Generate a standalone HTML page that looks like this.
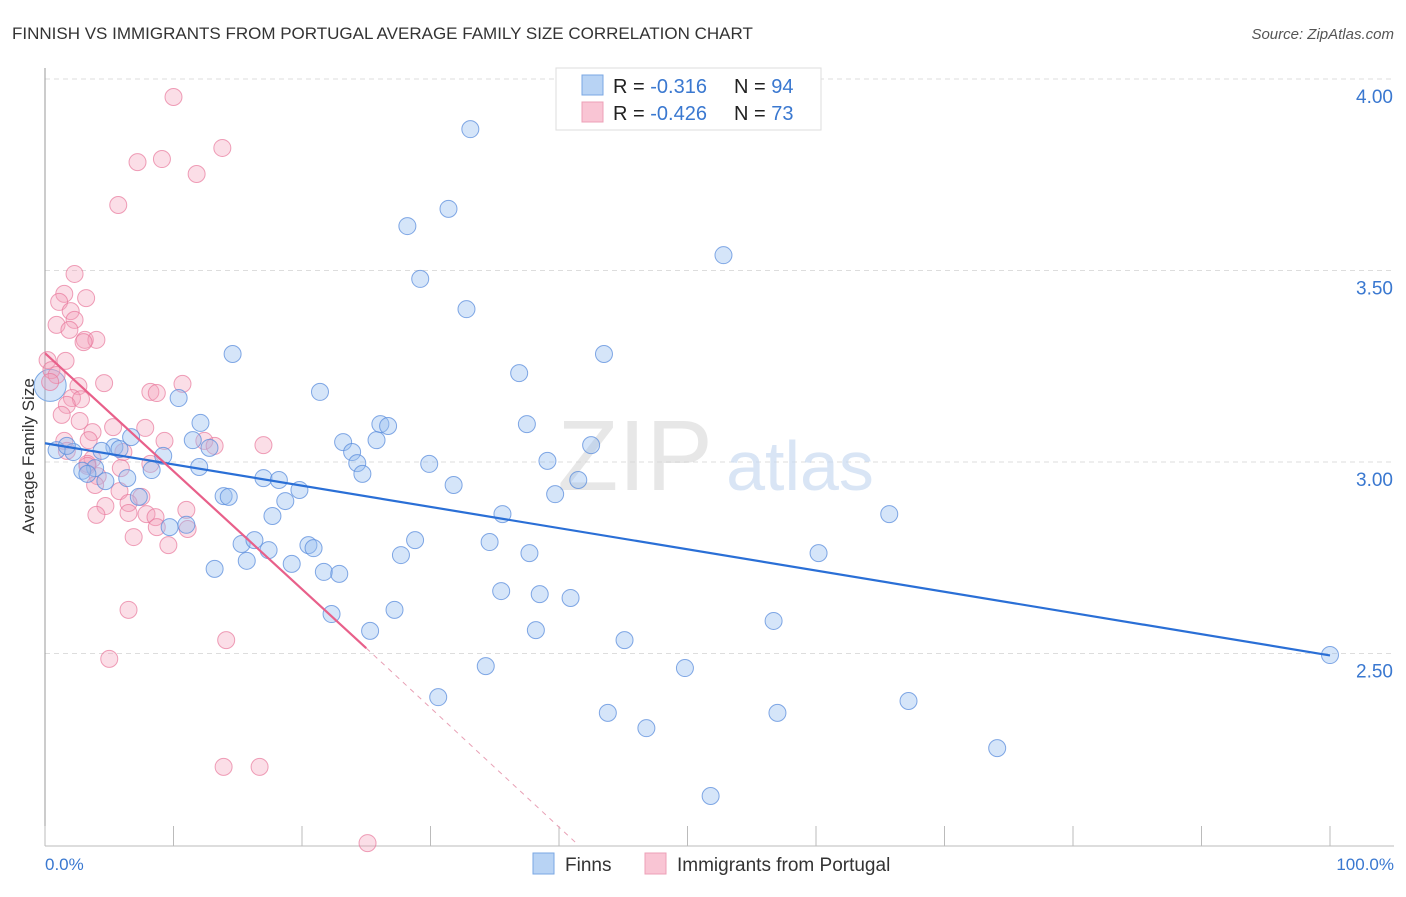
<!DOCTYPE html>
<html><head><meta charset="utf-8"><style>
body{margin:0;background:#fff;font-family:"Liberation Sans",sans-serif}
svg text{font-family:"Liberation Sans",sans-serif}
</style></head><body>
<svg id="chart" width="1406" height="892">
<text x="12" y="39" font-size="17" fill="#333">FINNISH VS IMMIGRANTS FROM PORTUGAL AVERAGE FAMILY SIZE CORRELATION CHART</text>
<text x="1394" y="39" font-size="15" fill="#555" font-style="italic" text-anchor="end">Source: ZipAtlas.com</text>
<g id="grid"></g>
<text x="635" y="490" font-size="100" fill="#d8d8d8" font-family="Liberation Serif" text-anchor="middle" opacity="0.6">ZIP</text>
<text x="800" y="490" font-size="70" fill="#c9dbf2" text-anchor="middle" opacity="0.7">atlas</text>
<line x1="45" y1="68" x2="45" y2="846" stroke="#999"/>
<line x1="45" y1="846" x2="1394" y2="846" stroke="#bbb"/>
<g id="xticks"></g>
<g id="ylabels"></g>
<text transform="translate(34,456) rotate(-90)" font-size="17" fill="#333" text-anchor="middle">Average Family Size</text>
<text x="45" y="870" font-size="17" fill="#3a78d0">0.0%</text>
<text x="1394" y="870" font-size="17" fill="#3a78d0" text-anchor="end">100.0%</text>
<g id="pts"></g>
<g id="trends"></g>
<g>
<rect x="556" y="68" width="265" height="62" fill="#fff" stroke="#ddd"/>
<rect x="582" y="75" width="21" height="20" fill="#b8d3f4" stroke="#7aa7e3"/>
<rect x="582" y="102" width="21" height="20" fill="#f9c5d4" stroke="#eda0b7"/>
<text x="613" y="93" font-size="20" fill="#222">R = <tspan fill="#3a78d0"> -0.316</tspan><tspan x="734">N = </tspan><tspan fill="#3a78d0">94</tspan></text>
<text x="613" y="120" font-size="20" fill="#222">R = <tspan fill="#3a78d0">-0.426</tspan><tspan x="734">N = </tspan><tspan fill="#3a78d0">73</tspan></text>
</g>
<g>
<rect x="533" y="853" width="21" height="21" fill="#b8d3f4" stroke="#7aa7e3"/>
<text x="565" y="871" font-size="19" fill="#333">Finns</text>
<rect x="645" y="853" width="21" height="21" fill="#f9c5d4" stroke="#eda0b7"/>
<text x="677" y="871" font-size="19" fill="#333">Immigrants from Portugal</text>
</g>
</svg>
<script>
const yTicks=[2.5,3.0,3.5,4.0];
const yTickLabels=["2.50","3.00","3.50","4.00"];
const xTickPcts=[0,10,20,30,40,50,60,70,80,90,100];
const finnsPx=[[470,129],[449,209],[408,226],[420,279],[724,255],[466,309],[233,354],[604,354],[519,373],[320,392],[179,398],[381,424],[388,426],[527,424],[201,423],[343,442],[376,440],[193,440],[591,445],[131,437],[352,452],[209,448],[114,447],[120,449],[57,450],[73,452],[102,451],[67,446],[163,456],[548,461],[429,464],[357,463],[199,467],[152,470],[95,468],[82,471],[87,474],[363,474],[263,478],[279,480],[127,478],[106,481],[578,480],[453,485],[299,490],[224,496],[229,497],[139,497],[285,501],[555,494],[502,514],[889,514],[272,516],[170,527],[186,525],[241,544],[255,540],[308,545],[313,548],[415,540],[489,542],[530,553],[818,553],[401,555],[268,550],[215,569],[247,561],[292,564],[324,572],[339,574],[501,591],[540,594],[571,598],[395,610],[332,614],[773,621],[370,631],[536,630],[624,640],[486,666],[685,668],[438,697],[908,701],[608,713],[778,713],[646,728],[997,748],[710,796],[1330,655]];
const portPx=[[173,97],[222,148],[137,162],[162,159],[196,174],[118,205],[75,274],[64,294],[86,298],[59,302],[71,311],[74,320],[57,325],[70,330],[85,340],[97,340],[84,342],[66,361],[48,360],[52,370],[56,375],[50,382],[104,383],[182,384],[78,386],[151,392],[157,393],[72,398],[81,399],[67,405],[62,415],[145,428],[113,427],[80,421],[93,432],[165,441],[204,441],[215,446],[264,445],[64,441],[89,440],[67,451],[124,452],[93,459],[88,464],[150,464],[87,466],[121,468],[98,476],[95,485],[120,491],[141,497],[128,503],[186,510],[105,506],[129,513],[147,514],[155,517],[96,515],[188,529],[157,527],[134,537],[169,545],[129,610],[226,640],[109,659],[224,767],[259,767],[367,843]];
const finnsX=finnsPx.map(p=>+((p[0]-45)/12.85).toFixed(1));
const finnsY=finnsPx.map(p=>+(3-(p[1]-462)/383).toFixed(3));
const portX=portPx.map(p=>+((p[0]-45)/12.85).toFixed(1));
const portY=portPx.map(p=>+(3-(p[1]-462)/383).toFixed(3));
const finnsTrend=[[0,3.049],[100,2.495]];
const portTrend=[[0,3.284],[25,2.514],[41.5,2.0]];
const NS="http://www.w3.org/2000/svg";
const X=p=>45+p*12.85, Y=v=>462-(v-3)*383;
function mk(tag,attrs,parent){const e=document.createElementNS(NS,tag);for(const k in attrs)e.setAttribute(k,attrs[k]);parent.appendChild(e);return e;}
const grid=document.getElementById('grid'),yl=document.getElementById('ylabels'),xt=document.getElementById('xticks');
yTicks.forEach((v,i)=>{
 const l=mk('line',{x1:45,x2:1394,y1:Y(v),y2:Y(v),stroke:'#ddd','stroke-dasharray':'5,4'},grid);
 
 
 const t=mk('text',{x:1393,y:Y(v)+24,'font-size':19,fill:'#3a78d0','text-anchor':'end'},yl);
 t.textContent=yTickLabels[i];
 
 
});
xTickPcts.forEach(p=>{
 const l=mk('line',{x1:X(p),x2:X(p),y1:826,y2:846,stroke:'#bbb'},xt);
 
 
});
const pts=document.getElementById('pts');
const big=mk('circle',{cx:X(0.4),cy:Y(3.2),r:16,fill:'rgba(150,190,240,0.4)',stroke:'#7aa7e3'},pts);


portX.forEach((x,i)=>{
 const c=mk('circle',{cx:X(x),cy:Y(portY[i]),r:8.5,fill:'rgba(244,160,185,0.35)',stroke:'rgba(232,120,155,0.7)','stroke-width':1},pts);
 
 
});
finnsX.forEach((x,i)=>{
 const c=mk('circle',{cx:X(x),cy:Y(finnsY[i]),r:8.5,fill:'rgba(150,190,240,0.4)',stroke:'rgba(90,140,220,0.75)','stroke-width':1},pts);
 
 
});
const tr=document.getElementById('trends');
const bl=mk('line',{x1:X(finnsTrend[0][0]),y1:Y(finnsTrend[0][1]),x2:X(finnsTrend[1][0]),y2:Y(finnsTrend[1][1]),stroke:'#2a6fd6','stroke-width':2.2},tr);


const pl=mk('line',{x1:X(portTrend[0][0]),y1:Y(portTrend[0][1]),x2:X(portTrend[1][0]),y2:Y(portTrend[1][1]),stroke:'#e8608a','stroke-width':2.2},tr);


const pd=mk('line',{x1:X(portTrend[1][0]),y1:Y(portTrend[1][1]),x2:X(portTrend[2][0]),y2:Y(portTrend[2][1]),stroke:'#e8a0b5','stroke-width':1,'stroke-dasharray':'5,5'},tr);


</script>
</body></html>
